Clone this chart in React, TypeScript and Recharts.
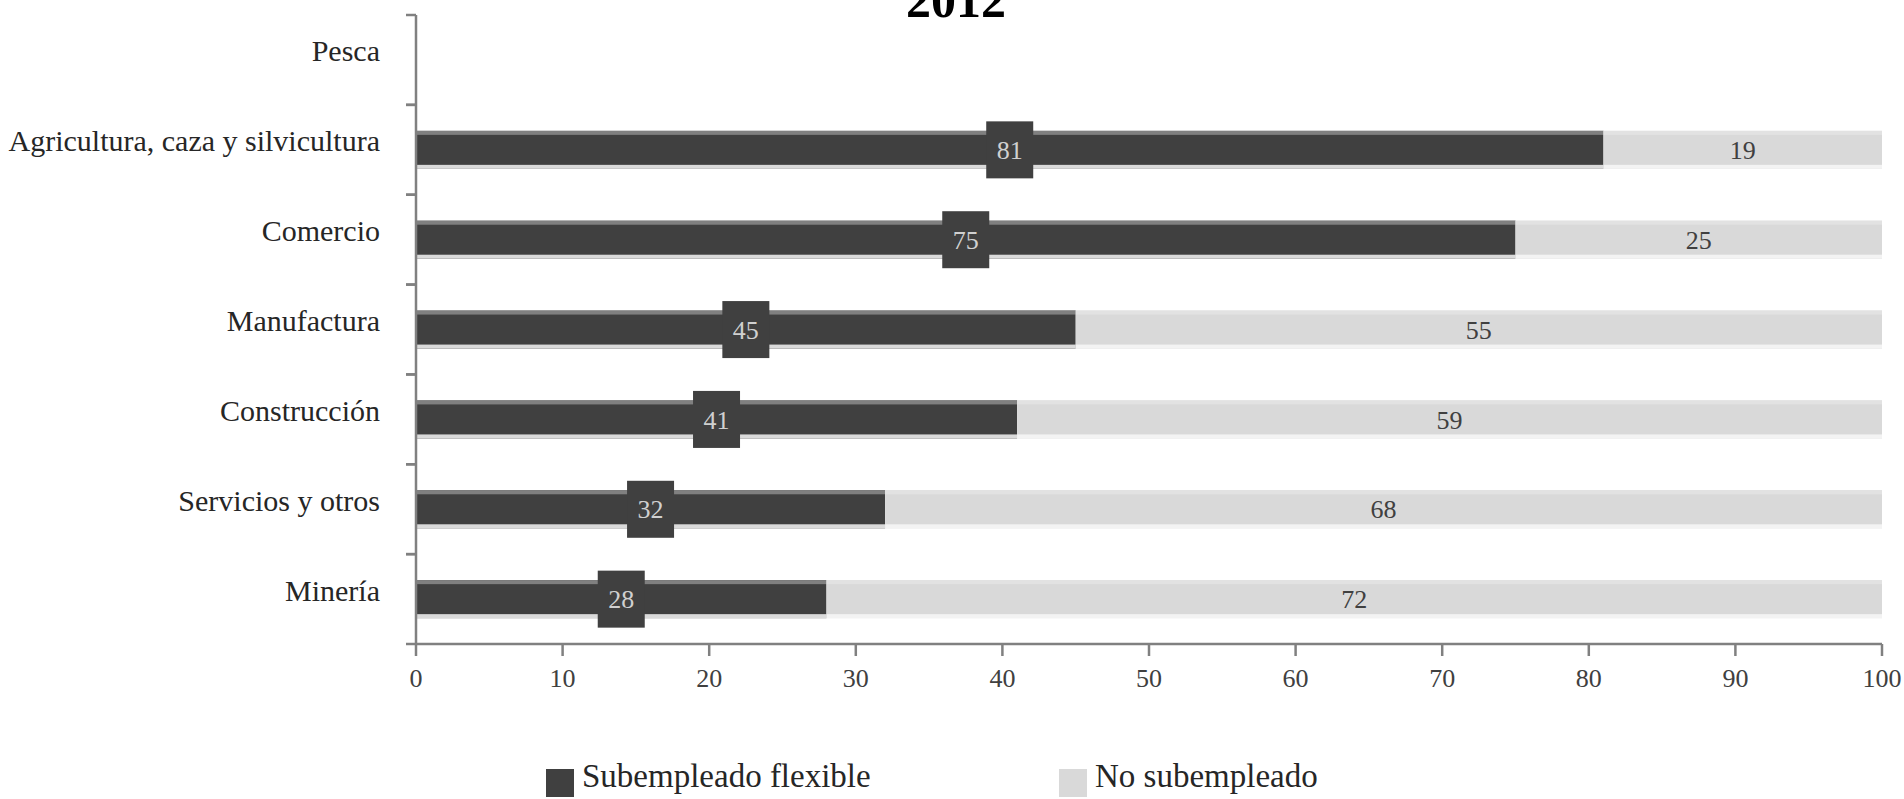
import React from "react";
import { BarChart, Bar, XAxis, YAxis, Legend, LabelList } from "recharts";

const FONT = '"Liberation Serif", "Times New Roman", serif';

// sectors, top to bottom
const sectors = [
  "Pesca",
  "Agricultura, caza y silvicultura",
  "Comercio",
  "Manufactura",
  "Construcción",
  "Servicios y otros",
  "Minería",
];
const flexible = [null, 81, 75, 45, 41, 32, 28];
const noSub = [null, 19, 25, 55, 59, 68, 72];
const xTicks = [0, 10, 20, 30, 40, 50, 60, 70, 80, 90, 100];
const seriesNames = ["Subempleado flexible", "No subempleado"];
const colors = ["#404040", "#d9d9d9"];

const data = sectors.map((sector, i) => ({
  sector,
  flexible: flexible[i],
  noSub: noSub[i],
}));

const YTick = (props: any) => {
  const { x, y, payload } = props;
  const half = payload.offset || 45;
  return (
    <g>
      <text x={x} y={y - 9} dy="0.35em" textAnchor="end" fontFamily={FONT} fontSize={30} fill="#262626">
        {payload.value}
      </text>
      <line x1={x + 26} x2={x + 36} y1={y - half} y2={y - half} stroke="#808080" strokeWidth={2.5} />
      <line x1={x + 26} x2={x + 36} y1={y + half} y2={y + half} stroke="#808080" strokeWidth={2.5} />
    </g>
  );
};

const DarkBar = (props: any) => {
  const { x, y, width, height } = props;
  if (!width || width <= 0) return null;
  return (
    <g>
      <rect x={x} y={y} width={width} height={height} fill={colors[0]} />
      <rect x={x} y={y} width={width} height={4} fill="#808080" />
      <rect x={x} y={y + height - 4} width={width} height={4} fill="#dadada" />
    </g>
  );
};

const LightBar = (props: any) => {
  const { x, y, width, height } = props;
  if (!width || width <= 0) return null;
  return (
    <g>
      <rect x={x} y={y} width={width} height={height} fill={colors[1]} />
      <rect x={x} y={y} width={width} height={4} fill="#e2e2e2" />
      <rect x={x} y={y + height - 4} width={width} height={4} fill="#f3f3f3" />
    </g>
  );
};

const DarkLabel = (props: any) => {
  const { x, y, width, height, value } = props;
  if (value == null) return null;
  const cx = x + width / 2;
  const cy = y + height / 2;
  return (
    <g>
      <rect x={cx - 23.5} y={cy - 28.5} width={47} height={57} fill={colors[0]} />
      <text x={cx} y={cy} dy="0.35em" textAnchor="middle" fontFamily={FONT} fontSize={26} fill="#d0d0d0">
        {value}
      </text>
    </g>
  );
};

const LightLabel = (props: any) => {
  const { x, y, width, height, value } = props;
  if (value == null) return null;
  return (
    <text x={x + width / 2} y={y + height / 2} dy="0.35em" textAnchor="middle" fontFamily={FONT} fontSize={26} fill="#404040">
      {value}
    </text>
  );
};

const LegendContent = () => (
  <div style={{ display: "flex", paddingLeft: 546, fontFamily: FONT }}>
    {seriesNames.map((name, i) => (
      <div key={name} style={{ position: "relative", width: 513, height: 40 }}>
        <div style={{ position: "absolute", left: 0, top: 9, width: 28, height: 28, background: colors[i] }} />
        <div style={{ position: "absolute", left: 36, top: 0, fontSize: 33, lineHeight: "32px", color: "#262626", whiteSpace: "nowrap" }}>
          {name}
        </div>
      </div>
    ))}
  </div>
);

export default function App() {
  return (
    <div style={{ position: "absolute", left: 0, top: 0, width: 1904, height: 799, background: "#fff", overflow: "hidden" }}>
      <div
        style={{
          position: "absolute",
          left: 4,
          top: -24,
          width: 1904,
          textAlign: "center",
          fontFamily: FONT,
          fontWeight: "bold",
          fontSize: 50,
          lineHeight: "48px",
          color: "#000",
        }}
      >
        2012
      </div>
      <BarChart
        width={1904}
        height={799}
        data={data}
        layout="vertical"
        margin={{ top: 15, right: 22, left: 0, bottom: 115 }}
      >
        <XAxis
          type="number"
          domain={[0, 100]}
          ticks={xTicks}
          interval={0}
          height={40}
          tickSize={12}
          tickMargin={13}
          axisLine={{ stroke: "#808080", strokeWidth: 2.5 }}
          tickLine={{ stroke: "#808080", strokeWidth: 2.5 }}
          tick={{ fontFamily: FONT, fontSize: 26, fill: "#404040" }}
        />
        <YAxis
          type="category"
          dataKey="sector"
          width={416}
          interval={0}
          tickSize={10}
          tickMargin={26}
          tickLine={false}
          axisLine={{ stroke: "#808080", strokeWidth: 2.5 }}
          tick={<YTick />}
        />
        <Legend
          layout="horizontal"
          verticalAlign="middle"
          align="center"
          wrapperStyle={{ left: 0, top: 760, width: 1904 }}
          content={<LegendContent />}
        />
        <Bar dataKey="flexible" name={seriesNames[0]} stackId="a" fill={colors[0]} barSize={38} shape={DarkBar} isAnimationActive={false}>
          <LabelList dataKey="flexible" content={DarkLabel} />
        </Bar>
        <Bar dataKey="noSub" name={seriesNames[1]} stackId="a" fill={colors[1]} barSize={38} shape={LightBar} isAnimationActive={false}>
          <LabelList dataKey="noSub" content={LightLabel} />
        </Bar>
      </BarChart>
    </div>
  );
}
